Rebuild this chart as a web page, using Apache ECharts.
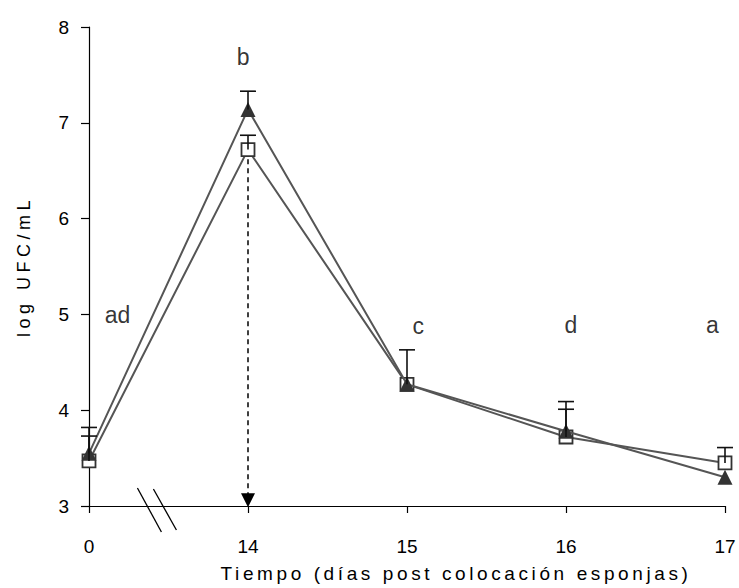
<!DOCTYPE html>
<html><head><meta charset="utf-8">
<script src="https://cdn.jsdelivr.net/npm/echarts@6/dist/echarts.min.js"></script>
<style>html,body{margin:0;padding:0;background:#fff}#c{width:739px;height:588px}</style>
</head><body><div id="c"></div>
<script>
var categories = ['0', '14', '15', '16', '17'];
var triangleMean = [3.55, 7.14, 4.27, 3.78, 3.30];
var triangleUpper = [3.82, 7.33, 4.63, 4.09, null];
var squareMean = [3.47, 6.72, 4.27, 3.72, 3.45];
var squareUpper = [3.73, 6.87, null, 4.01, 3.61];
var letters = ['ad', 'b', 'c', 'd', 'a'];
var letterX = [0.18, 0.97, 2.07, 3.03, 3.92];
var letterY = [4.99, 7.69, 4.88, 4.89, 4.89];
var yTicks = [3, 4, 5, 6, 7, 8];
var arrowFrom = 6.62, arrowTo = 3.06;
var xName = 'Tiempo (días post colocación esponjas)';
var yName = 'log UFC/mL';

function pts(arr){ return arr.map(function(v,i){ return [i, v]; }); }
function errData(mean, upper){
  var out = [];
  for (var i = 0; i < mean.length; i++) if (upper[i] != null) out.push([i, mean[i], upper[i]]);
  return out;
}
function errRender(params, api){
  var x = api.value(0);
  var p0 = api.coord([x, api.value(1)]);
  var p1 = api.coord([x, api.value(2)]);
  var w = 8;
  var st = {stroke: '#111', lineWidth: 1.6};
  return {type: 'group', children: [
    {type: 'line', shape: {x1: p0[0], y1: p0[1], x2: p1[0], y2: p1[1]}, style: st},
    {type: 'line', shape: {x1: p1[0]-w, y1: p1[1], x2: p1[0]+w, y2: p1[1]}, style: st}
  ]};
}

var chart = echarts.init(document.getElementById('c'), null, {renderer: 'svg'});
var font = 'Liberation Sans, Arial, sans-serif';
chart.setOption({
  animation: false,
  grid: {left: 89, right: 14, top: 27, bottom: 78},
  xAxis: {
    type: 'value', min: 0, max: categories.length - 1, interval: 1,
    axisLine: {onZero: false, lineStyle: {color: '#000', width: 1.2}},
    axisTick: {show: true, length: 7, lineStyle: {color: '#000', width: 1.2}},
    axisLabel: {margin: 31, color: '#000', fontSize: 19, fontFamily: font,
      formatter: function(v){ return categories[Math.round(v)]; }},
    splitLine: {show: false},
    name: xName, nameLocation: 'middle', nameGap: 58,
    nameTextStyle: {color: '#000', fontSize: 19, fontFamily: font, padding: [0, 0, 0, 98]}
  },
  yAxis: {
    type: 'value', min: yTicks[0], max: yTicks[yTicks.length-1], interval: 1,
    axisLine: {show: true, lineStyle: {color: '#000', width: 1.2}},
    axisTick: {show: true, length: 8, lineStyle: {color: '#000', width: 1.2}},
    axisLabel: {margin: 20, color: '#000', fontSize: 19, fontFamily: font},
    splitLine: {show: false},
    name: yName, nameLocation: 'middle', nameGap: 56, nameRotate: 90,
    nameTextStyle: {color: '#000', fontSize: 18, fontFamily: font}
  },
  series: [
    {type: 'line', name: 'sq', data: pts(squareMean), symbol: 'rect', symbolSize: 13,
     lineStyle: {color: '#555', width: 2},
     itemStyle: {color: '#fff', borderColor: '#333', borderWidth: 1.8}, z: 3,
     markLine: {silent: true, symbol: ['none', 'triangle'], symbolSize: [14, 14],
       label: {show: false},
       lineStyle: {type: [5, 4], color: '#000', width: 1.5},
       data: [[{coord: [1, arrowFrom]}, {coord: [1, arrowTo]}]]}},
    {type: 'line', name: 'tri', data: pts(triangleMean), symbol: 'triangle', symbolSize: 15,
     lineStyle: {color: '#555', width: 2},
     itemStyle: {color: '#333', borderColor: '#333', borderWidth: 0}, z: 4},
    {type: 'custom', renderItem: errRender, data: errData(squareMean, squareUpper), z: 5},
    {type: 'custom', renderItem: errRender, data: errData(triangleMean, triangleUpper), z: 5},
    {type: 'scatter', symbolSize: 0, silent: true,
     data: letters.map(function(t,i){ return {value: [letterX[i], letterY[i]], name: t}; }),
     label: {show: true, position: 'inside', formatter: '{b}', color: '#000', fontSize: 23, fontFamily: font}}
  ]
});

var b = chart.convertToPixel({gridIndex: 0}, [0.38, 3]);
chart.setOption({graphic: [
  {type: 'line', shape: {x1: b[0]-12, y1: b[1]-18, x2: b[0]+12, y2: b[1]+26}, style: {stroke: '#000', lineWidth: 1.3}},
  {type: 'line', shape: {x1: b[0]+4, y1: b[1]-17, x2: b[0]+27, y2: b[1]+24}, style: {stroke: '#000', lineWidth: 1.3}}
]});

function spaceNames(){
  var ts = document.querySelectorAll('#c text');
  for (var i = 0; i < ts.length; i++) {
    var t = ts[i];
    if (t.textContent === xName) t.style.letterSpacing = '3.6px';
    else if (t.textContent === yName) t.style.letterSpacing = '4.5px';
  }
}
chart.getZr().refreshImmediately();
spaceNames();
chart.on('finished', spaceNames);
</script></body></html>
